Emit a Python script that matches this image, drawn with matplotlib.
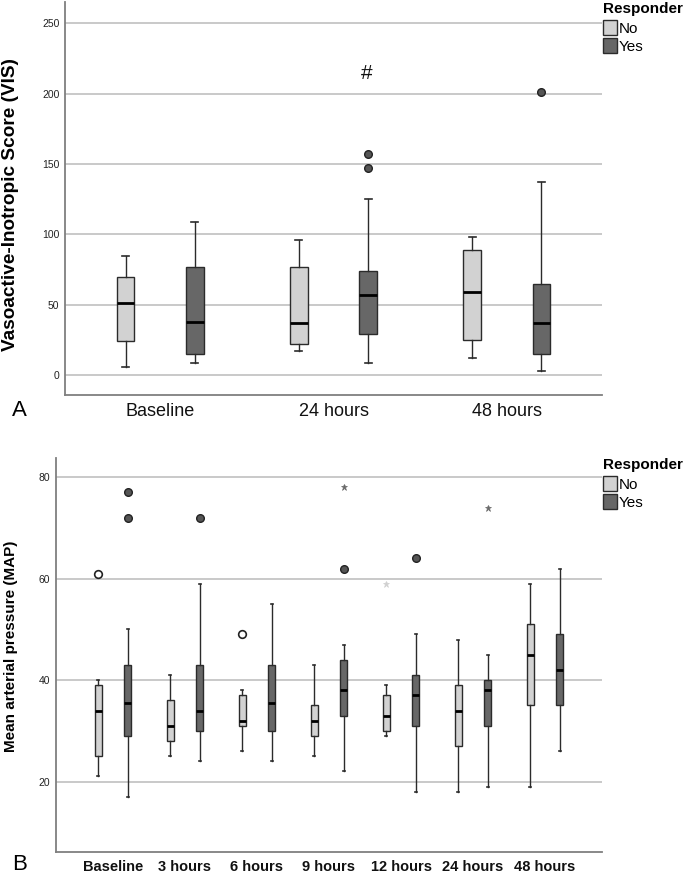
import numpy as np
import matplotlib
matplotlib.use("Agg")
import matplotlib.pyplot as plt
from matplotlib.patches import Patch

plt.rcParams["font.family"] = ["Liberation Sans", "DejaVu Sans"]

# Panel A: Vasoactive-Inotropic Score
vis_times = ["Baseline", "24 hours", "48 hours"]
vis_no_whislo = [6, 17, 12]
vis_no_q1 = [24, 22, 25]
vis_no_med = [51, 37, 59]
vis_no_q3 = [70, 77, 89]
vis_no_whishi = [85, 96, 98]
vis_yes_whislo = [9, 9, 3]
vis_yes_q1 = [15, 29, 15]
vis_yes_med = [38, 57, 37]
vis_yes_q3 = [77, 74, 65]
vis_yes_whishi = [109, 125, 137]
vis_yes_outliers = [[], [147, 157], [201]]
vis_ticks = [0, 50, 100, 150, 200, 250]

# Panel B: Mean arterial pressure
map_times = ["Baseline", "3 hours", "6 hours", "9 hours", "12 hours", "24 hours", "48 hours"]
map_no_whislo = [21, 25, 26, 25, 29, 18, 19]
map_no_q1 = [25, 28, 31, 29, 30, 27, 35]
map_no_med = [34, 31, 32, 32, 33, 34, 45]
map_no_q3 = [39, 36, 37, 35, 37, 39, 51]
map_no_whishi = [40, 41, 38, 43, 39, 48, 59]
map_no_outliers = [[61], [], [49], [], [], [], []]
map_no_extremes = [[], [], [], [], [59], [], []]
map_yes_whislo = [17, 24, 24, 22, 18, 19, 26]
map_yes_q1 = [29, 30, 30, 33, 31, 31, 35]
map_yes_med = [35.5, 34, 35.5, 38, 37, 38, 42]
map_yes_q3 = [43, 43, 43, 44, 41, 40, 49]
map_yes_whishi = [50, 59, 55, 47, 49, 45, 62]
map_yes_outliers = [[72, 77], [72], [], [62], [64], [], []]
map_yes_extremes = [[], [], [], [78], [], [74], []]
map_ticks = [20, 40, 60, 80]

NO_COLOR = "#d2d2d2"
YES_COLOR = "#676767"
EDGE = "#2b2b2b"
GRID = "#c9c9c9"
SPINE = "#7f7f7f"


def make_stats(whislo, q1, med, q3, whishi):
    return [dict(whislo=a, q1=b, med=c, q3=d, whishi=e, fliers=[])
            for a, b, c, d, e in zip(whislo, q1, med, q3, whishi)]


def draw_group(ax, stats, positions, color, capwidth):
    ax.bxp(
        stats,
        positions=positions,
        widths=0.1,
        patch_artist=True,
        showfliers=False,
        capwidths=capwidth,
        boxprops=dict(facecolor=color, edgecolor=EDGE, linewidth=1.0),
        medianprops=dict(color="black", linewidth=2.0),
        whiskerprops=dict(color=EDGE, linewidth=1.0),
        capprops=dict(color=EDGE, linewidth=1.2),
        zorder=3,
    )


def draw_points(ax, positions, values, **kw):
    for x, vals in zip(positions, values):
        if vals:
            ax.plot([x] * len(vals), vals, linestyle="none", zorder=4, **kw)


def style_axes(ax, ticks, labels, ylim, xlim, label_size, label_weight):
    ax.set_xlim(*xlim)
    ax.set_ylim(*ylim)
    ax.set_yticks(ticks)
    ax.set_yticklabels([str(t) for t in ticks], fontsize=7.5, color="#222222")
    ax.set_xticks(np.arange(len(labels)))
    ax.set_xticklabels(labels, fontsize=label_size, fontweight=label_weight, color="#111111")
    ax.tick_params(axis="both", length=0)
    ax.tick_params(axis="y", pad=4)
    ax.tick_params(axis="x", pad=6)
    for t in ticks:
        ax.axhline(t, color=GRID, linewidth=1.4, zorder=1)
    for side in ["top", "right"]:
        ax.spines[side].set_visible(False)
    for side in ["left", "bottom"]:
        ax.spines[side].set_color(SPINE)
        ax.spines[side].set_linewidth(1.3)


def add_legend(fig, x, y):
    handles = [Patch(facecolor=NO_COLOR, edgecolor=EDGE, label="No"),
               Patch(facecolor=YES_COLOR, edgecolor=EDGE, label="Yes")]
    leg = fig.legend(handles=handles, title="Responder", loc="upper left",
                     bbox_to_anchor=(x, y), frameon=False, fontsize=11,
                     title_fontproperties=dict(weight="bold", size=11),
                     handlelength=0.9, handleheight=1.1, handletextpad=0.15,
                     labelspacing=0.15, borderpad=0, borderaxespad=0)
    leg._legend_box.align = "left"
    leg._legend_box.sep = 3


fig = plt.figure(figsize=(6.85, 8.77), dpi=100)

# ---- Panel A ----
axA = fig.add_axes([65 / 685, 1 - 395 / 877, 537 / 685, 393 / 877])
xa = np.arange(len(vis_times))
draw_group(axA, make_stats(vis_no_whislo, vis_no_q1, vis_no_med, vis_no_q3, vis_no_whishi),
           xa - 0.2, NO_COLOR, 0.04)
draw_group(axA, make_stats(vis_yes_whislo, vis_yes_q1, vis_yes_med, vis_yes_q3, vis_yes_whishi),
           xa + 0.2, YES_COLOR, 0.04)
draw_points(axA, xa + 0.2, vis_yes_outliers, marker="o", markersize=5.5,
            markerfacecolor="#555555", markeredgecolor="#222222", markeredgewidth=1.0)
style_axes(axA, vis_ticks, vis_times, (-14, 265), (-0.55, 2.55), 13, "normal")
axA.text(1 + 0.19, 214, "#", ha="center", va="center", fontsize=15, color="#111111")
axA.set_ylabel("Vasoactive-Inotropic Score (VIS)", fontsize=13.7, fontweight="bold")
axA.yaxis.set_label_coords(-0.085, 0.486)
add_legend(fig, 603 / 685, 1 - 2 / 877)
fig.text(12 / 685, 1 - 411 / 877, "A", fontsize=16, va="center", ha="left")

# ---- Panel B ----
axB = fig.add_axes([56 / 685, 1 - 852 / 877, 546 / 685, 394 / 877])
xb = np.arange(len(map_times))
draw_group(axB, make_stats(map_no_whislo, map_no_q1, map_no_med, map_no_q3, map_no_whishi),
           xb - 0.205, NO_COLOR, 0.025)
draw_group(axB, make_stats(map_yes_whislo, map_yes_q1, map_yes_med, map_yes_q3, map_yes_whishi),
           xb + 0.205, YES_COLOR, 0.025)
draw_points(axB, xb - 0.205, map_no_outliers, marker="o", markersize=5.5,
            markerfacecolor="white", markeredgecolor="#222222", markeredgewidth=1.2)
draw_points(axB, xb + 0.205, map_yes_outliers, marker="o", markersize=5.5,
            markerfacecolor="#555555", markeredgecolor="#222222", markeredgewidth=1.0)
draw_points(axB, xb - 0.205, map_no_extremes, marker="*", markersize=5,
            markerfacecolor="#d0d0d0", markeredgecolor="#d0d0d0", markeredgewidth=0.5)
draw_points(axB, xb + 0.205, map_yes_extremes, marker="*", markersize=5,
            markerfacecolor="#6a6a6a", markeredgecolor="#6a6a6a", markeredgewidth=0.5)
style_axes(axB, map_ticks, map_times, (6.1, 83.8), (-0.79, 6.79), 10.5, "bold")
axB.set_ylabel("Mean arterial pressure (MAP)", fontsize=11, fontweight="bold")
axB.yaxis.set_label_coords(-0.07, 0.523)
add_legend(fig, 603 / 685, 1 - 458 / 877)
fig.text(12 / 685, 1 - 865 / 877, "B", fontsize=16, va="center", ha="left")

fig.savefig("out.png", dpi=100)
